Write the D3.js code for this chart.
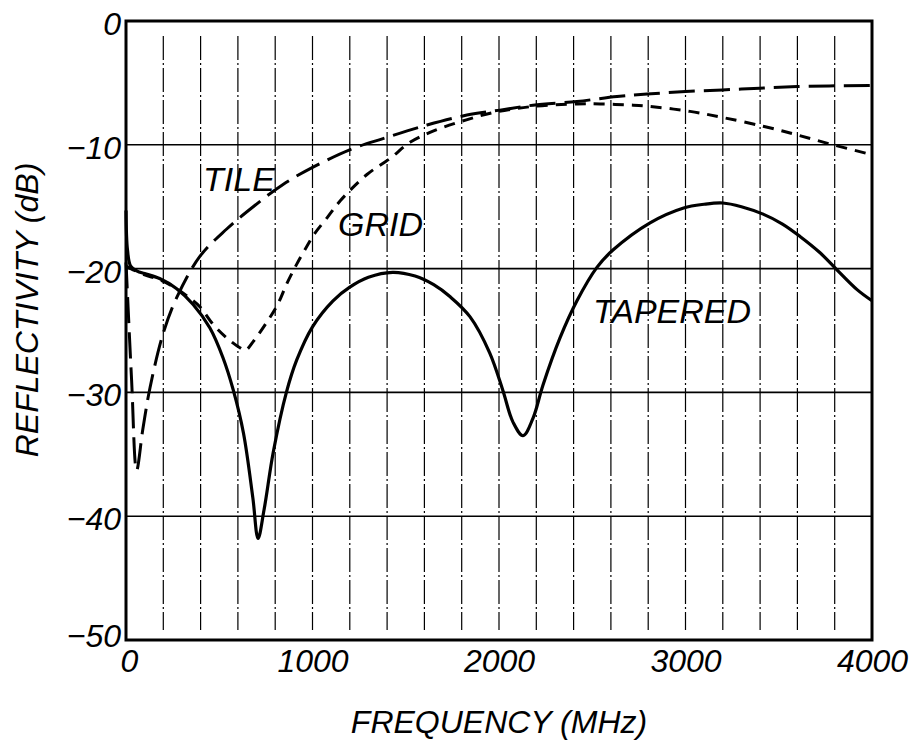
<!DOCTYPE html>
<html>
<head>
<meta charset="utf-8">
<script src="https://cdn.jsdelivr.net/npm/d3@7"></script>
<style>
  html, body { margin: 0; padding: 0; background: #fff; }
  svg text { font-family: "Liberation Sans", Arial, Helvetica, sans-serif; font-style: italic; fill: #000; }
</style>
</head>
<body>
<svg id="chart" width="916" height="753"></svg>
<script>
'use strict';

// frequency (MHz) / reflectivity (dB)
var taperedFreq = [0, 8, 25, 60, 100, 180, 270, 360, 450, 520, 575, 630, 680, 708, 740, 790, 860, 915, 1000, 1110, 1200, 1300, 1430, 1550, 1650, 1740, 1845, 1950, 2020, 2075, 2129, 2182, 2236, 2327, 2418, 2525, 2611, 2810, 2990, 3100, 3200, 3300, 3416, 3520, 3614, 3720, 3812, 3920, 4000]
var taperedDb   = [-15.3, -18.5, -19.8, -20.2, -20.4, -20.8, -21.6, -22.9, -24.8, -27.2, -29.8, -33.3, -38.5, -41.8, -39.5, -34.8, -30.0, -27.4, -24.7, -22.6, -21.5, -20.7, -20.3, -20.6, -21.3, -22.3, -23.9, -26.8, -29.8, -32.4, -33.5, -32.1, -29.4, -25.6, -22.6, -19.9, -18.5, -16.3, -15.1, -14.8, -14.7, -15.0, -15.6, -16.4, -17.4, -18.7, -20.1, -21.7, -22.6]

var tileFreq = [0, 30, 57, 90, 129, 200, 273, 397, 540, 682, 842, 1003, 1217, 1378, 1614, 1828, 2005, 2182, 2418, 2633, 2794, 3000, 3300, 3600, 4000]
var tileDb   = [-19.5, -29, -36.3, -33, -29.6, -25.2, -22.3, -19.0, -16.8, -15.0, -13.2, -11.8, -10.3, -9.5, -8.4, -7.6, -7.2, -6.8, -6.5, -6.1, -5.9, -5.7, -5.5, -5.3, -5.2]

var gridFreq = [0, 25, 100, 180, 270, 343, 397, 467, 540, 611, 640, 682, 756, 810, 863, 917, 970, 1010, 1078, 1150, 1292, 1416, 1523, 1646, 1800, 1968, 2182, 2418, 2542, 2719, 2810, 3024, 3201, 3416, 3598, 3791, 4000]
var gridDb   = [-19.8, -20.0, -20.5, -20.9, -21.6, -22.4, -23.1, -24.5, -25.6, -26.4, -26.6, -25.9, -24.3, -23.0, -21.2, -19.6, -18.2, -17.2, -15.9, -14.5, -12.4, -11.1, -9.8, -8.9, -8.1, -7.4, -6.9, -6.7, -6.7, -6.8, -6.9, -7.3, -7.8, -8.5, -9.2, -10.0, -10.8]

var xTicks = [0, 1000, 2000, 3000, 4000]
var yTicks = [0, -10, -20, -30, -40, -50]
var xGridLines = d3.range(200, 4000, 200)
var yGridLines = [-10, -20, -30, -40]

var labelText = ['TILE', 'GRID', 'TAPERED']
var labelFreq = [413, 1137, 2504]
var labelDb   = [-13.7, -17.4, -24.4]

var chart = (function() {
    var svg = d3.select('#chart')
    var left = 126, right = 872, top = 21, bottom = 640

    var x = d3.scaleLinear().domain([0, 4000]).range([left, right])
    var y = d3.scaleLinear().domain([-50, 0]).range([bottom, top])

    function zipSeries(fs, vs) {
        return fs.map(function(f, i) { return {f: f, v: vs[i]}; })
    }

    function drawGrid() {
        var g = svg.append('g').attr('class', 'grid')
        g.selectAll('line.v')
            .data(xGridLines)
            .enter().append('line')
            .attr('class', 'v')
            .attr('x1', function(d) { return x(d); })
            .attr('x2', function(d) { return x(d); })
            .attr('y1', top + 15)
            .attr('y2', bottom - 10)
            .attr('stroke', '#000')
            .attr('stroke-width', 1.2)
            .attr('stroke-dasharray', '24,3,2,3');

        g.selectAll('line.h')
            .data(yGridLines)
            .enter().append('line')
            .attr('class', 'h')
            .attr('x1', left)
            .attr('x2', right)
            .attr('y1', function(d) { return y(d); })
            .attr('y2', function(d) { return y(d); })
            .attr('stroke', '#000')
            .attr('stroke-width', 1.6);
    }

    function drawAxes() {
        var yAxis = d3.axisLeft(y).tickValues(yTicks).tickSize(0).tickPadding(5)
            .tickFormat(function(d) { return d === 0 ? '0' : '\u2212' + Math.abs(d); })
        var gy = svg.append('g').attr('transform', 'translate(' + left + ',0)').call(yAxis)
        gy.select('.domain').remove()
        gy.selectAll('text')
            .attr('font-size', 32)
            .attr('dy', function(d) { return d === -50 ? '0.2em' : '0.42em'; })
            .style('font-family', null);

        var xAxis = d3.axisBottom(x).tickValues(xTicks).tickSize(0).tickPadding(9)
            .tickFormat(d3.format('d'))
        var gx = svg.append('g').attr('transform', 'translate(0,' + bottom + ')').call(xAxis)
        gx.select('.domain').remove()
        gx.selectAll('text')
            .attr('font-size', 32)
            .attr('dy', '0.72em')
            .attr('dx', function(d) { return d === 0 ? 3 : 0; })
            .style('font-family', null);

        svg.append('rect')
            .attr('x', left)
            .attr('y', top)
            .attr('width', right - left)
            .attr('height', bottom - top)
            .attr('fill', 'none')
            .attr('stroke', '#000')
            .attr('stroke-width', 3);

        svg.append('text')
            .attr('x', (left + right) / 2)
            .attr('y', 733)
            .attr('text-anchor', 'middle')
            .attr('font-size', 32)
            .text('FREQUENCY (MHz)');

        svg.append('text')
            .attr('transform', 'translate(38,310) rotate(-90)')
            .attr('text-anchor', 'middle')
            .attr('font-size', 32)
            .text('REFLECTIVITY (dB)');
    }

    function drawCurves() {
        var line = d3.line()
            .x(function(d) { return x(d.f); })
            .y(function(d) { return y(d.v); })
            .curve(d3.curveCatmullRom.alpha(0.5))

        var g = svg.append('g').attr('class', 'curves')
        g.append('path')
            .datum(zipSeries(gridFreq, gridDb))
            .attr('d', line)
            .attr('fill', 'none')
            .attr('stroke', '#000')
            .attr('stroke-width', 3)
            .attr('stroke-dasharray', '11,8');

        g.append('path')
            .datum(zipSeries(tileFreq, tileDb))
            .attr('d', line)
            .attr('fill', 'none')
            .attr('stroke', '#000')
            .attr('stroke-width', 3)
            .attr('stroke-dasharray', '26,9');

        g.append('path')
            .datum(zipSeries(taperedFreq, taperedDb))
            .attr('d', line)
            .attr('fill', 'none')
            .attr('stroke', '#000')
            .attr('stroke-width', 3.2);
    }

    function drawLabels() {
        svg.append('g').selectAll('text')
            .data(labelText)
            .enter().append('text')
            .attr('x', function(d, i) { return x(labelFreq[i]); })
            .attr('y', function(d, i) { return y(labelDb[i]); })
            .attr('font-size', 34)
            .text(function(d) { return d; });
    }

    return { render: function() { drawGrid(); drawCurves(); drawAxes(); drawLabels(); } }
}())

chart.render()
</script>
</body>
</html>
